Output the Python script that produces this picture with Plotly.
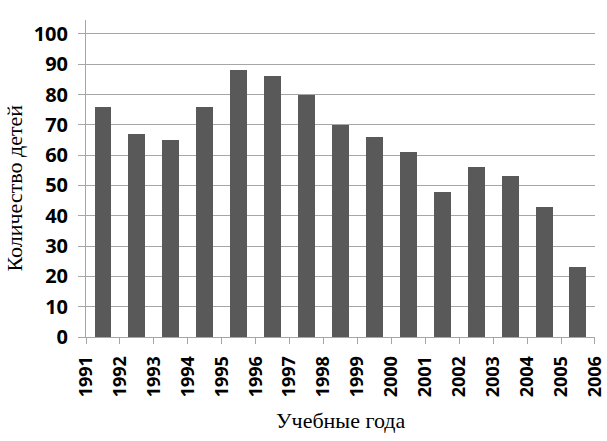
import plotly.graph_objects as go

years = [1991, 1992, 1993, 1994, 1995, 1996, 1997, 1998, 1999, 2000,
         2001, 2002, 2003, 2004, 2005]
children = [76, 67, 65, 76, 88, 86, 80, 70, 66, 61, 48, 56, 53, 43, 23]
tick_years = list(range(1991, 2007))
tick_labels = [str(y) for y in tick_years]
y_ticks = list(range(0, 101, 10))

x_title = "Учебные года"
y_title = "Количество детей"

fig = go.Figure()
fig.add_trace(go.Bar(
    x=[y + 0.5 for y in years],
    y=children,
    width=0.5,
    marker=dict(color="#595959", line=dict(width=0)),
))

grid = "#a6a6a6"
fig.update_layout(
    width=607, height=441,
    margin=dict(l=86, r=12, t=20, b=104),
    paper_bgcolor="white", plot_bgcolor="white",
    showlegend=False,
    xaxis=dict(
        range=[1990.999, 2006.002],
        tickvals=tick_years, ticktext=tick_labels,
        tickangle=-90,
        ticks="outside", ticklen=6, tickcolor=grid, tickwidth=1,
        showline=True, linecolor=grid, linewidth=1,
        showgrid=False, zeroline=False,
        tickfont=dict(family="Open Sans", size=18, color="black", weight="bold"),
        ticklabelstandoff=5,
        ticklabeloverflow="allow",
        automargin=False,
    ),
    yaxis=dict(
        range=[0, 104.6],
        tickvals=y_ticks,
        ticks="outside", ticklen=7, tickcolor=grid, tickwidth=1,
        showline=True, linecolor=grid, linewidth=1,
        showgrid=True, gridcolor=grid, gridwidth=1,
        zeroline=False,
        tickfont=dict(family="Open Sans", size=20, color="black", weight="bold"),
        ticklabelstandoff=6,
        automargin=False,
    ),
    bargap=0,
    annotations=[
        dict(text=x_title, xref="paper", yref="paper", x=0.5, y=0,
             xshift=0, yshift=-83, xanchor="center", yanchor="middle",
             showarrow=False,
             font=dict(family="Liberation Serif", size=22, color="black")),
        dict(text=y_title, xref="paper", yref="paper", x=0, y=0.5,
             xshift=-72, yshift=-10, xanchor="center", yanchor="middle",
             textangle=-90, showarrow=False,
             font=dict(family="Liberation Serif", size=22, color="black")),
    ],
)

fig.write_html("out.html",
               config={"displayModeBar": False},
               post_script="document.body.style.margin='0px';document.body.style.overflow='hidden';")
